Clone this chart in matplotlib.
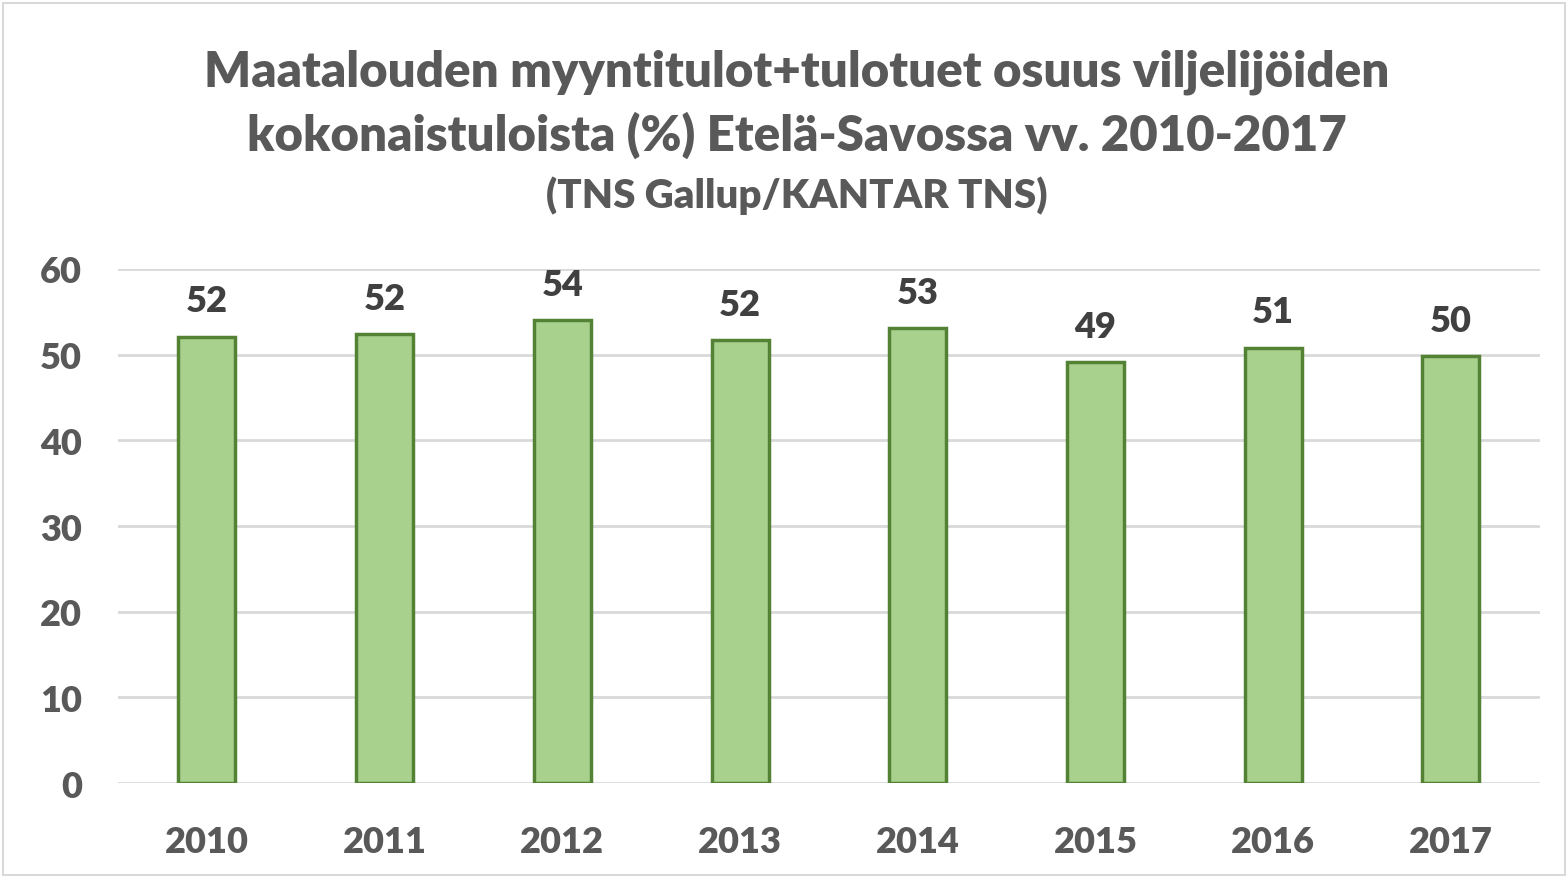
import matplotlib.pyplot as plt
import matplotlib.patches as mpatches

# data
years = ['2010', '2011', '2012', '2013', '2014', '2015', '2016', '2017']
share = [52.1, 52.4, 54.0, 51.7, 53.1, 49.1, 50.8, 49.8]
yticks = [0, 10, 20, 30, 40, 50, 60]

plt.rcParams['font.family'] = ['Lato', 'DejaVu Sans']

fig = plt.figure(figsize=(15.68, 8.78), dpi=100)
ax = fig.add_axes([0.0753, 0.107, 0.9067, 0.5855])

x = range(len(years))
bars = ax.bar(x, share, width=0.32, color='#A9D18E', edgecolor='#548235',
              linewidth=2.5, zorder=3)
ax.bar_label(bars, fmt='%.0f', padding=14, fontsize=26, fontweight='heavy',
             color='#404040')

ax.set_xlim(-0.5, len(years) - 0.5)
ax.set_ylim(0, 60)
ax.set_yticks(yticks)
ax.set_xticks(list(x))
ax.set_xticklabels(years)
ax.grid(axis='y', color='#D9D9D9', linewidth=2, zorder=0)
for s in ax.spines.values():
    s.set_visible(False)
ax.tick_params(length=0, labelsize=26, labelcolor='#595959')
ax.tick_params(axis='y', pad=26)
ax.tick_params(axis='x', pad=30)
for lab in ax.get_xticklabels() + ax.get_yticklabels():
    lab.set_fontweight('heavy')

fig.text(0.508, 0.918, 'Maatalouden myyntitulot+tulotuet osuus viljelijöiden',
         ha='center', va='center', fontsize=35.4, fontweight='heavy', color='#595959')
fig.text(0.508, 0.846, 'kokonaistuloista (%) Etelä-Savossa vv. 2010-2017',
         ha='center', va='center', fontsize=35.4, fontweight='heavy', color='#595959')
fig.text(0.508, 0.777, '(TNS Gallup/KANTAR TNS)',
         ha='center', va='center', fontsize=29, fontweight='heavy', color='#595959')

fig.patches.append(mpatches.Rectangle((0.002, 0.002), 0.996, 0.994,
                                      transform=fig.transFigure, fill=False,
                                      edgecolor='#D9D9D9', linewidth=1.5))

fig.savefig('out.png', dpi=100)
